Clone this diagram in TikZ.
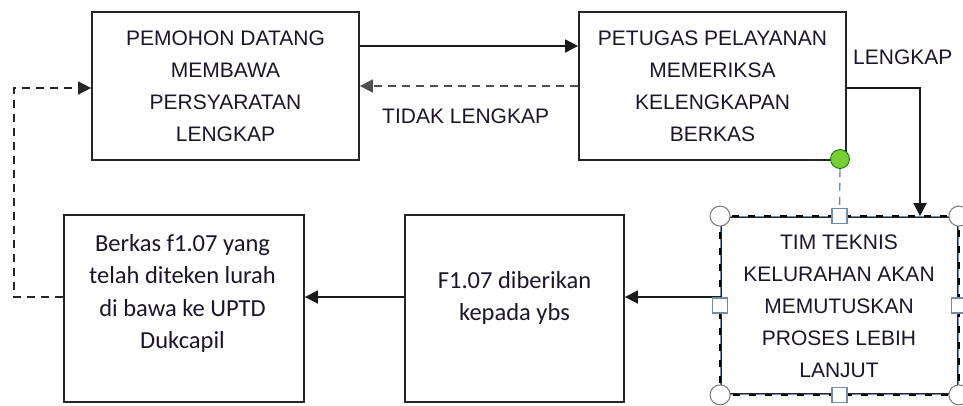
\documentclass[tikz,border=0pt]{standalone}
\usepackage{fontspec}
\setmainfont{Liberation Sans}
\newfontfamily\calfont{Carlito}
\usetikzlibrary{arrows.meta}
\definecolor{selblue}{RGB}{110,140,175}
\definecolor{handlegray}{RGB}{120,120,120}
\definecolor{greenhandle}{RGB}{120,205,50}
\definecolor{dashgray}{RGB}{80,80,80}
\definecolor{txt}{RGB}{30,20,40}
\tikzset{
  box/.style={draw=black!85, line width=1.8pt, rectangle, inner sep=0pt},
  captext/.style={align=center, font=\fontsize{21}{32}\selectfont, text=txt},
  lowtext/.style={align=center, font=\calfont\fontsize{24.5}{32.5}\selectfont, text=txt},
  conn/.style={draw=black!90, line width=1.8pt, -{Triangle[length=13pt,width=13pt]}},
  dconn/.style={draw=dashgray, line width=1.8pt, dash pattern=on 8pt off 6pt, -{Triangle[length=13pt,width=13pt]}},
  lbl/.style={font=\fontsize{21}{24}\selectfont, text=txt, inner sep=0pt},
  cornerh/.style={circle, draw=handlegray, fill=white, line width=1pt, minimum size=20pt, inner sep=0pt},
  sideh/.style={rectangle, draw=selblue, fill=white, line width=1.2pt, minimum size=15pt, inner sep=0pt},
}
\begin{document}
\begin{tikzpicture}[x=1pt,y=-1pt]
\useasboundingbox (0,0) rectangle (963,405);
% boxes
\node[box, minimum width=267pt, minimum height=148pt] (b1) at (225.5,86) {};
\node[captext] (t1) at (b1.center) {PEMOHON DATANG\\MEMBAWA\\PERSYARATAN\\LENGKAP};
\node[box, minimum width=267pt, minimum height=148pt] (b2) at (712.5,86) {};
\node[captext] (t2) at (b2.center) {PETUGAS PELAYANAN\\MEMERIKSA\\KELENGKAPAN\\BERKAS};
\node[box, minimum width=240pt, minimum height=187pt] (b5) at (184,308.5) {};
\node[lowtext] (t5) at (182.5,293.5) {Berkas f1.07 yang\\telah diteken lurah\\di bawa ke UPTD\\Dukcapil};
\node[box, minimum width=219pt, minimum height=187pt] (b4) at (514.5,308.5) {};
\node[lowtext] (t4) at (514.5,298) {F1.07 diberikan\\kepada ybs};
\node[box, minimum width=237pt, minimum height=177pt] (b3) at (839.5,305.5) {};
\node[captext] (t3) at (839,306.5) {TIM TEKNIS\\KELURAHAN AKAN\\MEMUTUSKAN\\PROSES LEBIH\\LANJUT};
% selection outline
\draw[selblue, line width=1pt] (b3.north west) rectangle (b3.south east);
\draw[black, line width=1.8pt, dash pattern=on 7pt off 9pt] (b3.north west) rectangle (b3.south east);
% coordinates
\coordinate (c1) at (920,88);
\coordinate (c2) at (14,297);
\coordinate (c3) at (14,88);
% connectors
\draw[conn] (b1.east |- 0,46) -- (b2.west |- 0,46);
\draw[dconn] (b2.west |- 0,86) -- (b1.east |- 0,86);
\node[lbl, anchor=west] (l1) at (382,116) {TIDAK LENGKAP};
\draw[conn] (b2.east |- c1) -- (c1) -- (c1 |- b3.north);
\node[lbl, anchor=west] (l2) at (853,57) {LENGKAP};
\draw[conn] (b3.west |- 0,297) -- (b4.east |- 0,297);
\draw[conn] (b4.west |- 0,297) -- (b5.east |- 0,297);
\draw[draw=black!85, line width=1.8pt, dash pattern=on 8pt off 6pt, -{Triangle[length=13pt,width=13pt]}] (b5.west |- c2) -- (c2) -- (c3) -- (b1.west |- c3);
% handles
\node[circle, draw=green!45!black, fill=greenhandle, line width=0.8pt, minimum size=19pt, inner sep=0pt] (gh) at (840,159) {};
\node[sideh] (hn) at (b3.north) {};
\draw[selblue, line width=1.4pt, dash pattern=on 8pt off 6pt] (gh.south) -- (hn.north);
\node[sideh] (hs) at (b3.south) {};
\node[sideh] (hw) at (b3.west) {};
\node[sideh] (he) at (b3.east) {};
\node[cornerh] (hnw) at (b3.north west) {};
\node[cornerh] (hne) at (b3.north east) {};
\node[cornerh] (hsw) at (b3.south west) {};
\node[cornerh] (hse) at (b3.south east) {};
\end{tikzpicture}
\end{document}
